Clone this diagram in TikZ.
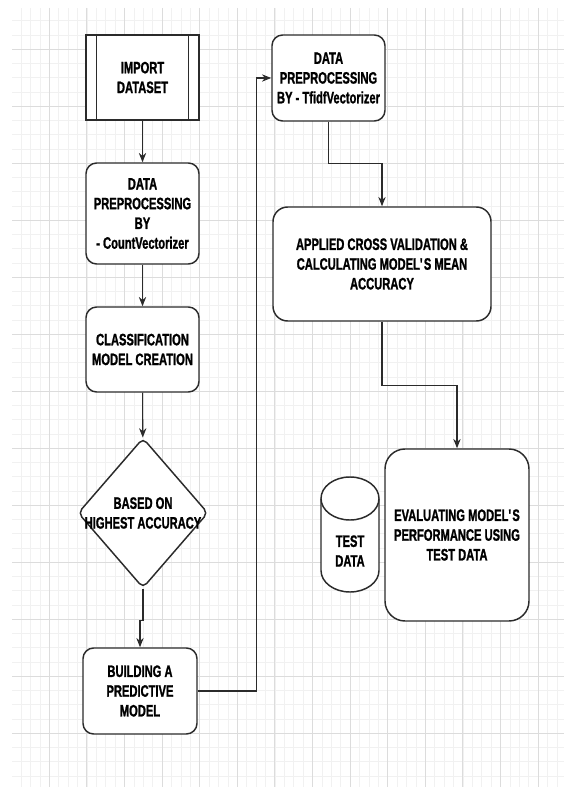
\documentclass[tikz,border=0pt]{standalone}
\usepackage{fontspec}
\setmainfont{Liberation Sans}[FakeStretch=0.675,BoldFont={Liberation Sans Bold},BoldFeatures={FakeStretch=0.675,FakeBold=1.2}]
\usetikzlibrary{arrows.meta,shapes.geometric}
\definecolor{gridminor}{HTML}{F1F1F1}
\definecolor{gridmajor}{HTML}{DCDCDC}
\definecolor{edge}{HTML}{2B2B2B}

\begin{document}
\begin{tikzpicture}[x=0.75pt,y=-0.75pt,>={Stealth[length=7pt,width=5.5pt]},
  txt/.style={align=center,inner sep=0pt,font=\bfseries\fontsize{12.4}{14.8}\selectfont},
  box/.style={txt,draw=edge,line width=1.1pt,fill=white,rounded corners=8pt},
  flow/.style={->,edge,line width=0.8pt}]
 \useasboundingbox (0,0) rectangle (564,787);
 % background grid
 \begin{scope}
  \clip (12,8) rectangle (564,787);
  \foreach \i in {0,...,58} \draw[gridminor,line width=0.6pt] ({11.7+9.4*\i},8) -- ({11.7+9.4*\i},787);
  \foreach \j in {0,...,56} \draw[gridminor,line width=0.6pt] (12,{-7.7+14.25*\j}) -- (564,{-7.7+14.25*\j});
  \foreach \i in {0,...,14} \draw[gridmajor,line width=0.8pt] ({11.7+37.6*\i},8) -- ({11.7+37.6*\i},787);
  \foreach \j in {0,...,14} \draw[gridmajor,line width=0.8pt] (12,{-7.7+57*\j}) -- (564,{-7.7+57*\j});
 \end{scope}
 % left column
 \node[box,sharp corners,minimum width=84.75pt,minimum height=63.75pt] (imp) at (142.5,77.5) {IMPORT\\DATASET};
 \draw[edge,line width=1.1pt] ([xshift=8.25pt]imp.north west) -- ([xshift=8.25pt]imp.south west);
 \draw[edge,line width=1.1pt] ([xshift=-8.25pt]imp.north east) -- ([xshift=-8.25pt]imp.south east);
 \node[box,minimum width=84.75pt,minimum height=75.75pt] (cvec) at (142.5,213.5) {DATA\\PREPROCESSING\\BY\\- CountVectorizer};
 \node[box,minimum width=84.75pt,minimum height=63.75pt] (clf) at (142.5,349.5) {CLASSIFICATION\\MODEL CREATION};
 \node[draw=edge,line width=1.1pt,fill=white,diamond,rounded corners=4pt,inner sep=0pt,minimum width=97.5pt,minimum height=112.5pt] (dia) at (143,513) {};
 \node[txt] (dialbl) at (dia) {BASED ON\\HIGHEST ACCURACY};
 \node[box,minimum width=85.5pt,minimum height=64.5pt] (build) at (140,691) {BUILDING A\\PREDICTIVE\\MODEL};
 % right column
 \node[box,minimum width=84.75pt,minimum height=64.5pt] (tfidf) at (328.5,78) {DATA\\PREPROCESSING\\BY - TfidfVectorizer};
 \node[box,rounded corners=11pt,minimum width=163.5pt,minimum height=85.5pt] (cv) at (382,264) {APPLIED CROSS VALIDATION \&\\CALCULATING MODEL\textquotesingle S MEAN\\ACCURACY};
 \node[box,rounded corners=15pt,minimum width=108pt,minimum height=129pt] (eval) at (457,535) {EVALUATING MODEL\textquotesingle S\\PERFORMANCE USING\\TEST DATA};
 \draw[edge,line width=1.1pt,fill=white] (321,498.5) -- (321,570.5)
   arc[start angle=180,end angle=0,x radius=29,y radius=21.5] -- (379,498.5)
   arc[start angle=0,end angle=-180,x radius=29,y radius=21.5] -- cycle;
 \draw[edge,line width=1.1pt] (321,498.5) arc[start angle=180,end angle=0,x radius=29,y radius=21.5];
 \node[txt] (test) at (350,551) {TEST\\DATA};
 % connectors
 \draw[flow] (imp) -- (cvec);
 \draw[flow] (cvec) -- (clf);
 \draw[flow] (clf) -- (dia);
 \draw[flow] (dia.south) -- ++(0,32) -| (build.north);
 \draw[flow] (build.east) -- ++(59,0) |- (tfidf.west);
 \draw[flow] (tfidf.south) -- ++(0,42) -| (cv.north);
 \draw[flow] (cv.south) -- ++(0,64) -| (eval.north);
\end{tikzpicture}
\end{document}
